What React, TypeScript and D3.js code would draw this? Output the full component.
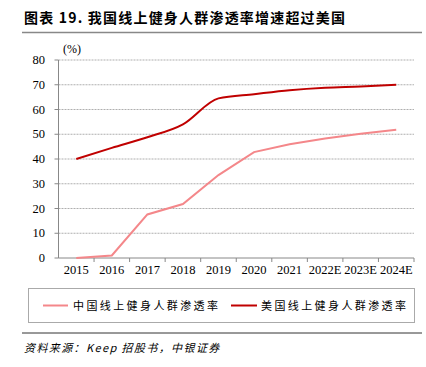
import React from "react";
import * as d3 from "d3";

const categories = ["2015", "2016", "2017", "2018", "2019", "2020", "2021", "2022E", "2023E", "2024E"];
const chinaValues = [0, 1, 17.6, 21.8, 33.5, 42.8, 46, 48.3, 50.2, 51.8];
const usValues = [40, 44.5, 48.8, 54, 64.5, 66.2, 67.8, 68.8, 69.3, 70];
const yTicks = [0, 10, 20, 30, 40, 50, 60, 70, 80];
const seriesNames = ["中国线上健身人群渗透率", "美国线上健身人群渗透率"];
const title = "图表 19. 我国线上健身人群渗透率增速超过美国";
const source = "资料来源：Keep 招股书，中银证券";

const W = 426, H = 367;
const left = 58.5, right = 414, top = 60, bottom = 258;

export default function App() {
  const x = d3.scaleBand<string>().domain(categories).range([left, right]);
  const y = d3.scaleLinear().domain([0, 80]).range([bottom, top]);
  const cx = (c: string) => (x(c) as number) + x.bandwidth() / 2;
  const chinaLine = d3.line<number>().x((_, i) => cx(categories[i])).y((d) => y(d)).curve(d3.curveLinear);
  const usLine = d3.line<number>().x((_, i) => cx(categories[i])).y((d) => y(d)).curve(d3.curveMonotoneX);
  const serif = "'Liberation Serif', 'Times New Roman', serif";
  const cjk = "'Noto Sans CJK SC', sans-serif";
  return (
    <svg width={W} height={H} style={{ position: "absolute", left: 0, top: 0 }}>
      <rect width={W} height={H} fill="#fff" />
      <text x={24} y={23} fontFamily={cjk} fontWeight="bold" fontSize={14} letterSpacing={1.2} fill="#000">{title}</text>
      <line x1={22} x2={422} y1={32.5} y2={32.5} stroke="#888" strokeWidth={1.5} />
      <text x={63} y={53} fontFamily={serif} fontSize={12}>(%)</text>
      {yTicks.map((t) => (
        <g key={t}>
          {t > 0 && <line x1={left} x2={right} y1={y(t)} y2={y(t)} stroke="#9a9a9a" strokeWidth={0.8} strokeDasharray="2,1" />}
          <line x1={left - 4} x2={left} y1={y(t)} y2={y(t)} stroke="#888" />
          <text x={45} y={y(t) + 4} textAnchor="end" fontFamily={serif} fontSize={12.5}>{t}</text>
        </g>
      ))}
      <line x1={left} x2={left} y1={top} y2={bottom} stroke="#888" />
      <line x1={left} x2={right} y1={bottom} y2={bottom} stroke="#888" />
      {categories.map((c) => (
        <g key={c}>
          <line x1={(x(c) as number) + x.bandwidth()} x2={(x(c) as number) + x.bandwidth()} y1={bottom} y2={bottom + 4} stroke="#888" />
          <text x={cx(c)} y={274} textAnchor="middle" fontFamily={serif} fontSize={12.5}>{c}</text>
        </g>
      ))}
      <path d={chinaLine(chinaValues) || ""} fill="none" stroke="#f4878a" strokeWidth={2} />
      <path d={usLine(usValues) || ""} fill="none" stroke="#c00000" strokeWidth={2} />
      <rect x={28.5} y={288.5} width={386} height={34} fill="none" stroke="#aaa" />
      <line x1={43} x2={68} y1={305.5} y2={305.5} stroke="#f4878a" strokeWidth={2} />
      <text x={73} y={310} fontFamily={cjk} fontSize={11} letterSpacing={2.4}>{seriesNames[0]}</text>
      <line x1={231} x2={257} y1={305.5} y2={305.5} stroke="#c00000" strokeWidth={2} />
      <text x={261} y={310} fontFamily={cjk} fontSize={11} letterSpacing={2.4}>{seriesNames[1]}</text>
      <line x1={22} x2={422} y1={333} y2={333} stroke="#333" strokeWidth={1} />
      <text x={24} y={352} fontFamily={cjk} fontStyle="italic" fontSize={11} letterSpacing={1.4}>{source}</text>
    </svg>
  );
}
